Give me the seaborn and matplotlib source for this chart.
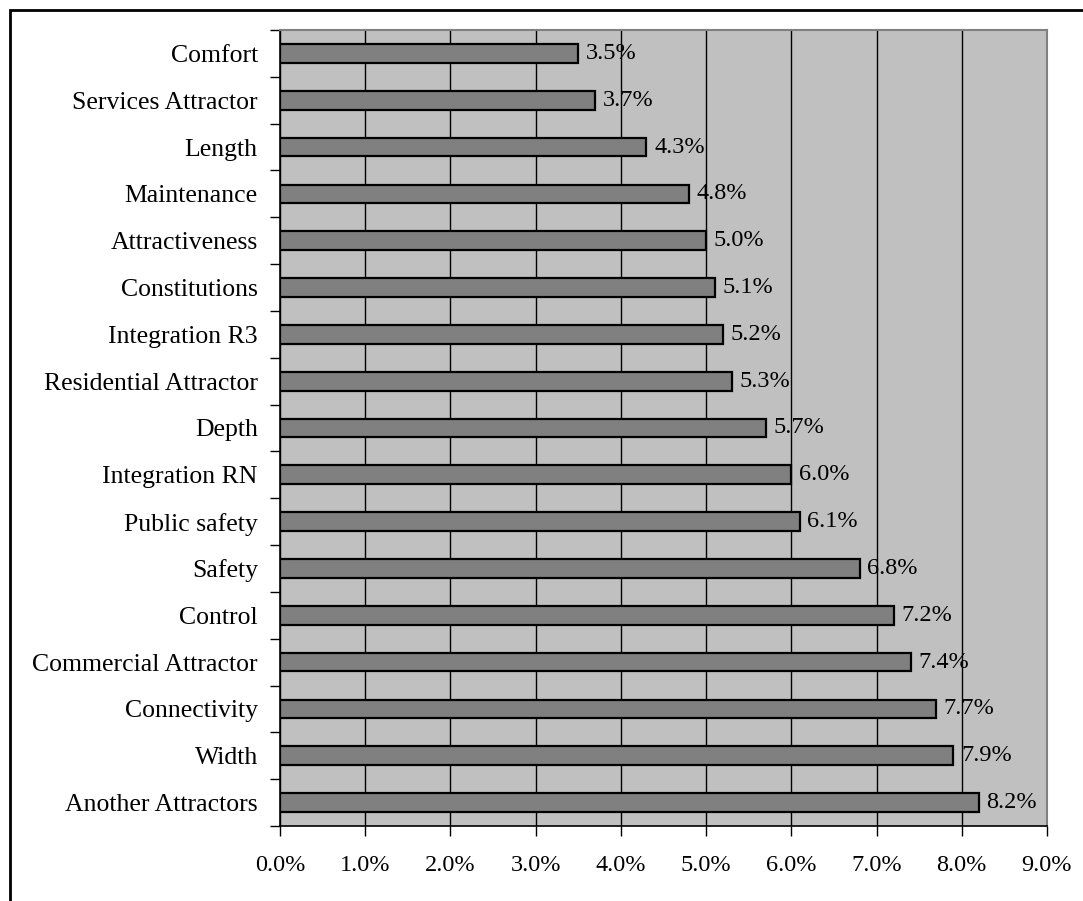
import matplotlib
matplotlib.use("Agg")
import matplotlib.pyplot as plt
import seaborn as sns
import pandas as pd
import numpy as np
from matplotlib.ticker import FixedLocator, FuncFormatter
from matplotlib.patches import Rectangle

categories = ["Comfort", "Services Attractor", "Length", "Maintenance", "Attractiveness",
              "Constitutions", "Integration R3", "Residential Attractor", "Depth",
              "Integration RN", "Public safety", "Safety", "Control", "Commercial Attractor",
              "Connectivity", "Width", "Another Attractors"]
values = [3.5, 3.7, 4.3, 4.8, 5.0, 5.1, 5.2, 5.3, 5.7, 6.0, 6.1, 6.8, 7.2, 7.4, 7.7, 7.9, 8.2]
x_ticks = [0, 1, 2, 3, 4, 5, 6, 7, 8, 9]

sns.set_theme(style="white")
plt.rcParams['font.family'] = ['Liberation Serif', 'DejaVu Serif']
FS_Y = 18.5
FS = 17.5

df = pd.DataFrame({"category": categories, "value": values})

fig = plt.figure(figsize=(10.83, 9.01), dpi=100)
ax = fig.add_axes([280/1083, 1-826/901, 767/1083, 796/901])
ax.set_facecolor("#C0C0C0")

sns.barplot(data=df, x="value", y="category", order=categories, color="#808080",
            saturation=1, width=0.4, edgecolor="black", linewidth=1.6, ax=ax, zorder=3)

ax.set_xlim(0, 9)
ax.set_ylim(len(categories)-0.5, -0.5)
ax.xaxis.set_major_locator(FixedLocator(x_ticks))
ax.xaxis.set_major_formatter(FuncFormatter(lambda v, p: f"{v:.1f}%"))
ax.grid(axis="x", color="black", linewidth=1.0, zorder=1)
ax.set_axisbelow(True)
ax.set_xlabel("")
ax.set_ylabel("")

ax.tick_params(axis="x", which="major", direction="out", length=7, width=1, color="black",
               bottom=True, labelsize=FS, pad=14, labelcolor="black")
ax.tick_params(axis="y", which="major", length=0, labelsize=FS_Y, pad=16, labelcolor="black")
ax.yaxis.set_minor_locator(FixedLocator(np.arange(-0.5, len(categories), 1.0)))
ax.tick_params(axis="y", which="minor", direction="out", length=7, width=1, color="black", left=True)

for s in ["left", "bottom"]:
    ax.spines[s].set_color("black")
    ax.spines[s].set_linewidth(1.2)
for s in ["top", "right"]:
    ax.spines[s].set_color("#808080")
    ax.spines[s].set_linewidth(1.5)
    ax.spines[s].set_visible(True)

for i, v in enumerate(values):
    ax.annotate(f"{v:.1f}%", xy=(v, i), xytext=(5.5, 0), textcoords="offset points",
                va="center", ha="left", fontsize=FS, color="black", zorder=4)

fig.patches.append(Rectangle((10/1083, -0.05), 1.2, 1-10/901+0.05, transform=fig.transFigure,
                             fill=False, edgecolor="black", linewidth=2, zorder=10))

fig.savefig("out.png", dpi=100)
